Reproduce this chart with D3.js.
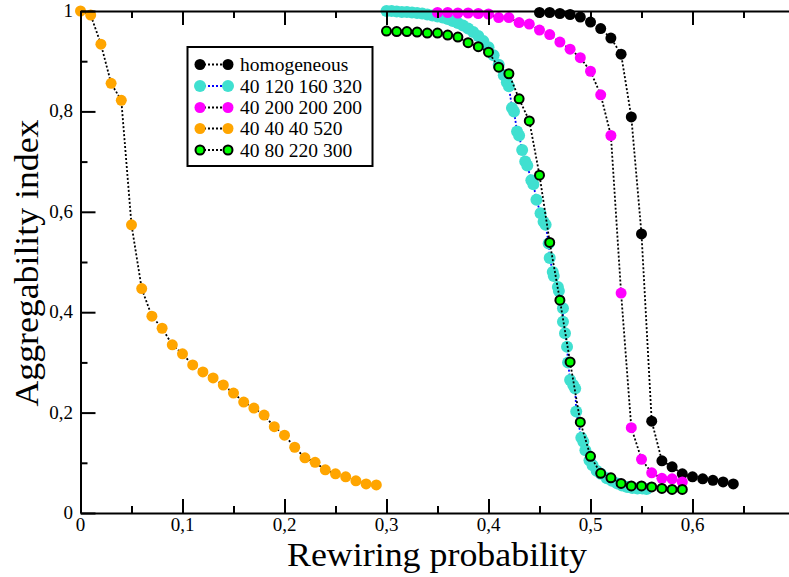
<!DOCTYPE html>
<html>
<head>
<meta charset="utf-8">
<script src="https://cdn.jsdelivr.net/npm/d3@7"></script>
<style>
  body { margin: 0; background: #fff; }
  svg { display: block; }
</style>
</head>
<body>
<div id="chart"></div>
<script>
// Aggregability index vs rewiring probability

const xTicks = [0, 0.1, 0.2, 0.3, 0.4, 0.5, 0.6];
const yTicks = [0, 0.2, 0.4, 0.6, 0.8, 1];

const homogeneousX = [0.45, 0.46, 0.47, 0.48, 0.49, 0.50, 0.51, 0.52, 0.53, 0.54,
    0.55, 0.56, 0.57, 0.58, 0.59, 0.60, 0.61, 0.62, 0.63, 0.64];
const homogeneousY = [0.997, 0.997, 0.995, 0.993, 0.988, 0.978, 0.965, 0.946, 0.914, 0.789,
    0.556, 0.183, 0.104, 0.092, 0.078, 0.072, 0.068, 0.065, 0.062, 0.058];

const cyanX = [0.300, 0.305, 0.310, 0.315, 0.320, 0.325, 0.330, 0.335, 0.340, 0.345,
    0.350, 0.355, 0.360, 0.365, 0.370, 0.375, 0.380, 0.385, 0.390, 0.395,
    0.400, 0.405, 0.410, 0.415, 0.418, 0.420, 0.423, 0.425, 0.428, 0.430,
    0.433, 0.436, 0.438, 0.442, 0.444, 0.447, 0.451, 0.454, 0.456, 0.459,
    0.460, 0.463, 0.464, 0.468, 0.469, 0.473, 0.473, 0.475, 0.477,
    0.478, 0.480, 0.483, 0.485, 0.486, 0.491, 0.493, 0.495, 0.499,
    0.502, 0.506, 0.510, 0.516, 0.521, 0.526, 0.531, 0.536, 0.541, 0.546,
    0.551, 0.555];
const cyanY = [1.000, 1.000, 0.999, 0.998, 0.998, 0.997, 0.996, 0.995, 0.993, 0.991,
    0.989, 0.987, 0.984, 0.980, 0.976, 0.971, 0.965, 0.958, 0.950, 0.940,
    0.928, 0.912, 0.893, 0.872, 0.858, 0.850, 0.807, 0.800, 0.760, 0.752,
    0.723, 0.700, 0.692, 0.663, 0.655, 0.624, 0.597, 0.580, 0.574, 0.537,
    0.508, 0.480, 0.472, 0.450, 0.442, 0.408, 0.381, 0.358, 0.331,
    0.300, 0.265, 0.255, 0.248, 0.202, 0.150, 0.142, 0.125, 0.105,
    0.095, 0.084, 0.078, 0.069, 0.064, 0.059, 0.055, 0.052, 0.050, 0.049,
    0.049, 0.048];

const magentaX = [0.35, 0.36, 0.37, 0.38, 0.39, 0.40, 0.41, 0.42, 0.43, 0.44,
    0.45, 0.46, 0.47, 0.48, 0.49, 0.50, 0.51, 0.52, 0.53, 0.54,
    0.55, 0.56, 0.57, 0.58, 0.59];
const magentaY = [0.997, 0.997, 0.996, 0.996, 0.995, 0.994, 0.987, 0.987, 0.977, 0.974,
    0.962, 0.953, 0.938, 0.924, 0.907, 0.880, 0.833, 0.752, 0.438, 0.170,
    0.107, 0.080, 0.069, 0.068, 0.062];

const orangeX = [0, 0.01, 0.02, 0.03, 0.04, 0.05, 0.06, 0.07, 0.08, 0.09,
    0.10, 0.11, 0.12, 0.13, 0.14, 0.15, 0.16, 0.17, 0.18, 0.19,
    0.20, 0.21, 0.22, 0.23, 0.24, 0.25, 0.26, 0.27, 0.28, 0.29];
const orangeY = [1.000, 0.992, 0.934, 0.856, 0.822, 0.574, 0.447, 0.392, 0.368, 0.335,
    0.317, 0.295, 0.281, 0.269, 0.255, 0.239, 0.221, 0.209, 0.195, 0.172,
    0.155, 0.131, 0.110, 0.101, 0.086, 0.078, 0.072, 0.064, 0.058, 0.056];

const greenX = [0.30, 0.31, 0.32, 0.33, 0.34, 0.35, 0.36, 0.37, 0.38, 0.39,
    0.40, 0.41, 0.42, 0.43, 0.44, 0.45, 0.46, 0.47, 0.48, 0.49,
    0.50, 0.51, 0.52, 0.53, 0.54, 0.55, 0.56, 0.57, 0.58, 0.59];
const greenY = [0.960, 0.959, 0.959, 0.958, 0.956, 0.956, 0.952, 0.948, 0.937, 0.929,
    0.918, 0.888, 0.875, 0.825, 0.781, 0.673, 0.539, 0.424, 0.301, 0.181,
    0.113, 0.079, 0.070, 0.059, 0.054, 0.054, 0.052, 0.049, 0.047, 0.047];

const seriesNames = ['homogeneous', '40 120 160 320', '40 200 200 200', '40 40 40 520', '40 80 220 300'];

function zip(xs, ys) {
    return xs.map((x, i) => ({ x: x, y: ys[i] }));
}

const series = [
    { name: seriesNames[0], pts: zip(homogeneousX, homogeneousY), fill: '#000000', stroke: 'none', line: '#000000', r: 5.5 },
    { name: seriesNames[1], pts: zip(cyanX, cyanY), fill: '#40e0d0', stroke: 'none', line: '#0000ff', r: 6 },
    { name: seriesNames[2], pts: zip(magentaX, magentaY), fill: '#ff00ff', stroke: 'none', line: '#000000', r: 5.5 },
    { name: seriesNames[3], pts: zip(orangeX, orangeY), fill: '#ffa500', stroke: 'none', line: '#000000', r: 5.5 },
    { name: seriesNames[4], pts: zip(greenX, greenY), fill: '#00ff00', stroke: '#000000', line: '#000000', r: 4.5 }
];

const width = 789;
const height = 577;
const plotLeft = 80.5, plotTop = 11, plotBottom = 513;
const serif = '"Liberation Serif", "Times New Roman", serif';

const x = d3.scaleLinear().domain([0, 0.7]).range([plotLeft, plotLeft + 0.7 * 1020]);
const y = d3.scaleLinear().domain([0, 1]).range([plotBottom, plotTop]);

const fmt = d => d === 0 || d === 1 ? String(d) : d3.format('.1f')(d).replace('.', ',');

const svg = d3.select('#chart')
    .append('svg')
    .attr('width', width)
    .attr('height', height)
    .style('background', '#fff');

// Series: dotted line, then symbols
series.forEach(s => {
    const line = d3.line().x(d => x(d.x)).y(d => y(d.y));
    svg.append('path')
        .datum(s.pts)
        .attr('d', line)
        .attr('fill', 'none')
        .attr('stroke', s.line)
        .attr('stroke-width', 1.8)
        .attr('stroke-dasharray', '2,2');

    svg.append('g')
        .selectAll('circle')
        .data(s.pts)
        .enter().append('circle')
        .attr('cx', d => x(d.x))
        .attr('cy', d => y(d.y))
        .attr('r', s.r)
        .attr('fill', s.fill)
        .attr('stroke', s.stroke)
        .attr('stroke-width', 2);
});

// Axes (ticks pointing inward)
const xAxis = d3.axisBottom(x)
    .tickValues(d3.range(0, 0.71, 0.05))
    .tickSizeInner(0).tickSizeOuter(0).tickFormat('');
const gx = svg.append('g').attr('transform', `translate(0,${plotBottom})`).call(xAxis);
gx.select('.domain').attr('stroke-width', 2);
gx.selectAll('.tick line')
    .attr('y2', (d, i) => i % 2 === 0 ? -14 : -7)
    .attr('stroke-width', 2);

const gxTop = svg.append('g').attr('transform', `translate(0,${plotTop})`).call(xAxis);
gxTop.select('.domain').attr('stroke-width', 2);
gxTop.selectAll('.tick line')
    .attr('y2', (d, i) => i % 2 === 0 ? 14 : 7)
    .attr('stroke-width', 2);

const yAxis = d3.axisLeft(y)
    .tickValues(d3.range(0, 1.01, 0.1))
    .tickSizeInner(0).tickSizeOuter(0).tickFormat('');
const gy = svg.append('g').attr('transform', `translate(${plotLeft},0)`).call(yAxis);
gy.select('.domain').attr('stroke-width', 2);
gy.selectAll('.tick line')
    .attr('x2', (d, i) => i % 2 === 0 ? 15 : 7)
    .attr('stroke-width', 2);

// Tick labels
svg.append('g')
    .selectAll('text')
    .data(xTicks)
    .enter().append('text')
    .attr('x', d => x(d))
    .attr('y', 531)
    .attr('text-anchor', 'middle')
    .style('font-family', serif)
    .style('font-size', '19px')
    .text(fmt);

svg.append('g')
    .selectAll('text')
    .data(yTicks)
    .enter().append('text')
    .attr('x', 73)
    .attr('y', d => y(d) + 6)
    .attr('text-anchor', 'end')
    .style('font-family', serif)
    .style('font-size', '19px')
    .text(fmt);

// Axis titles
svg.append('text')
    .attr('x', 437)
    .attr('y', 566)
    .attr('text-anchor', 'middle')
    .attr('textLength', 300)
    .attr('lengthAdjust', 'spacingAndGlyphs')
    .style('font-family', serif)
    .style('font-size', '34px')
    .text('Rewiring probability');

svg.append('text')
    .attr('transform', 'translate(38,263) rotate(-90)')
    .attr('text-anchor', 'middle')
    .attr('textLength', 287)
    .attr('lengthAdjust', 'spacingAndGlyphs')
    .style('font-family', serif)
    .style('font-size', '34px')
    .text('Aggregability index');

// Legend
const legend = svg.append('g');
legend.append('rect')
    .attr('x', 187.5).attr('y', 47)
    .attr('width', 185).attr('height', 119)
    .attr('fill', '#fff')
    .attr('stroke', '#000')
    .attr('stroke-width', 2);

const rowY = [64.5, 86, 107.5, 128.5, 150];
series.forEach((s, i) => {
    const row = legend.append('g').attr('transform', `translate(0,${rowY[i]})`);
    row.append('line')
        .attr('x1', 200).attr('x2', 228)
        .attr('stroke', s.line)
        .attr('stroke-width', 1.8)
        .attr('stroke-dasharray', '2,2');
    [200, 228].forEach(cx => {
        row.append('circle')
            .attr('cx', cx).attr('cy', 0)
            .attr('r', s.r)
            .attr('fill', s.fill)
            .attr('stroke', s.stroke)
            .attr('stroke-width', 2);
    });
    row.append('text')
        .attr('x', 240)
        .attr('y', 6.5)
        .style('font-family', serif)
        .style('font-size', '19.5px')
        .text(s.name);
});
</script>
</body>
</html>
